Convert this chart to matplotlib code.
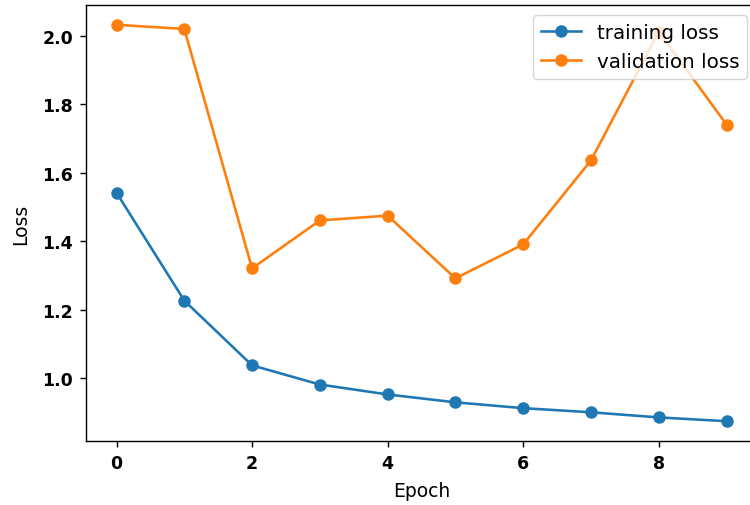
import matplotlib
matplotlib.use("Agg")
import matplotlib.pyplot as plt

epochs = list(range(10))
training_loss = [1.542, 1.227, 1.038, 0.982, 0.953, 0.930, 0.913, 0.901, 0.886, 0.875]
validation_loss = [2.032, 2.020, 1.321, 1.461, 1.475, 1.292, 1.391, 1.636, 2.012, 1.741]
y_ticks = [1.0, 1.2, 1.4, 1.6, 1.8, 2.0]
x_ticks = [0, 2, 4, 6, 8]

k = 1.25
fig = plt.figure(figsize=(7.5, 5.06), dpi=100)
ax = fig.add_axes([86/750, 64/506, (757-86)/750, (442-6)/506])
ax.plot(epochs, training_loss, marker='o', lw=1.5*k, ms=6.2*k, mew=1.0*k,
        color='#1f77b4', label='training loss')
ax.plot(epochs, validation_loss, marker='o', lw=1.5*k, ms=6.2*k, mew=1.0*k,
        color='#ff7f0e', label='validation loss')
ax.set_xticks(x_ticks)
ax.set_yticks(y_ticks)
ax.set_yticklabels([f"{v:.1f}" for v in y_ticks])
for sp in ax.spines.values():
    sp.set_linewidth(0.8*k)
ax.spines['right'].set_visible(False)
ax.tick_params(length=3.5*k, width=0.8*k, labelsize=12.5, pad=3.5*k+0.6)
for lbl in ax.get_xticklabels() + ax.get_yticklabels():
    lbl.set_fontweight('bold')
ax.set_xlabel('Epoch', fontsize=13.5, labelpad=6.5)
ax.set_ylabel('Loss', fontsize=13.5, labelpad=9)
ax.legend(loc='upper right', fontsize=14.3)
fig.savefig('out.png', dpi=100)
